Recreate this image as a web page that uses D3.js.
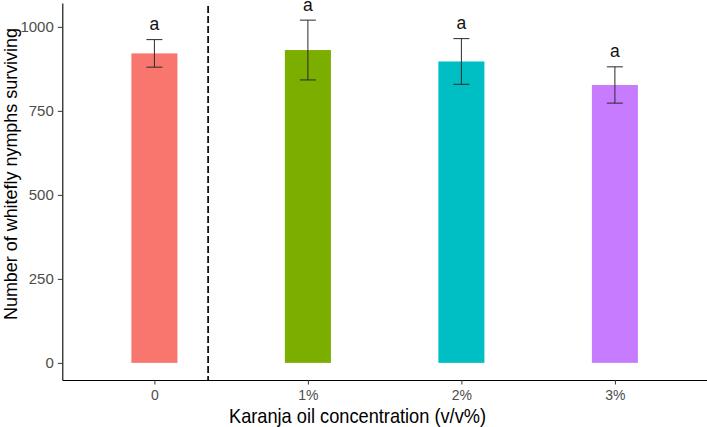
<!DOCTYPE html>
<html><head><meta charset="utf-8">
<script src="https://cdn.jsdelivr.net/npm/d3@7"></script>
<style>
html,body{margin:0;padding:0;background:#fff;}
svg{display:block;font-family:"Liberation Sans",Arial,Helvetica,sans-serif;}
</style></head>
<body>
<svg id="chart" width="707" height="427"></svg>
<script>
const categories = ["0", "1%", "2%", "3%"];
const means = [921, 931, 897, 827];
const errors = [41, 89, 68, 54];
const letters = ["a", "a", "a", "a"];
const colors = ["#F8766D", "#7CAE00", "#00BFC4", "#C77CFF"];
const yTicks = [0, 250, 500, 750, 1000];
const dividerPos = 1.35;

(function () {
const svg = d3.select("#chart");
const pLeft = 62.3, pRight = 707, pTop = 3, pBottom = 380;

const x = d3.scaleLinear().domain([0.4, categories.length + 0.6]).range([pLeft, pRight]);
const y = d3.scaleLinear().domain([-51, 1071]).range([pBottom, pTop]);
const barW = x(1.3) - x(1);

const g = svg.append("g");

// bars
g.selectAll("rect.bar").data(means).join("rect")
  .attr("class", "bar")
  .attr("x", (d, i) => x(i + 1) - barW / 2)
  .attr("width", barW)
  .attr("y", d => y(d))
  .attr("height", d => y(0) - y(d))
  .attr("fill", (d, i) => colors[i]);

// error bars
const capW = 16;
const eb = g.selectAll("g.eb").data(means).join("g").attr("class", "eb")
  .attr("stroke", "#2a2a2a").attr("stroke-width", 1).attr("fill", "none");
eb.append("line")
  .attr("x1", (d, i) => x(i + 1)).attr("x2", (d, i) => x(i + 1))
  .attr("y1", (d, i) => y(d + errors[i])).attr("y2", (d, i) => y(d - errors[i]));
eb.append("line")
  .attr("x1", (d, i) => x(i + 1) - capW / 2).attr("x2", (d, i) => x(i + 1) + capW / 2)
  .attr("y1", (d, i) => y(d + errors[i])).attr("y2", (d, i) => y(d + errors[i]));
eb.append("line")
  .attr("x1", (d, i) => x(i + 1) - capW / 2).attr("x2", (d, i) => x(i + 1) + capW / 2)
  .attr("y1", (d, i) => y(d - errors[i])).attr("y2", (d, i) => y(d - errors[i]));

// letters
g.selectAll("text.letter").data(means).join("text")
  .attr("class", "letter")
  .attr("x", (d, i) => x(i + 1))
  .attr("y", (d, i) => y(d + errors[i]) - 9.5)
  .attr("text-anchor", "middle")
  .style("font-size", "17.5px")
  .attr("fill", "#111")
  .text((d, i) => letters[i]);

// divider
g.append("line")
  .attr("x1", x(dividerPos)).attr("x2", x(dividerPos))
  .attr("y1", pTop + 3).attr("y2", pBottom)
  .attr("stroke", "#111").attr("stroke-width", 1.8)
  .attr("stroke-dasharray", "7,3");

// y axis
const yAxis = svg.append("g").attr("transform", `translate(${pLeft},0)`)
  .call(d3.axisLeft(y).tickValues(yTicks).tickFormat(d3.format("d"))
    .tickSize(4.5).tickPadding(4).tickSizeOuter(0));
yAxis.select(".domain").attr("stroke", "#000").attr("stroke-width", 1.1);
yAxis.selectAll(".tick line").attr("stroke", "#333").attr("stroke-width", 1);
yAxis.selectAll(".tick text").attr("fill", "#4D4D4D")
  .style("font-size", "15px").style("font-family", "'Liberation Sans', Arial, sans-serif");

// x axis
const xAxis = svg.append("g").attr("transform", `translate(0,${pBottom})`)
  .call(d3.axisBottom(x).tickValues(d3.range(1, categories.length + 1))
    .tickFormat(d => categories[d - 1]).tickSize(4.5).tickPadding(6).tickSizeOuter(0));
xAxis.select(".domain").attr("stroke", "#000").attr("stroke-width", 1.1);
xAxis.selectAll(".tick line").attr("stroke", "#333").attr("stroke-width", 1);
xAxis.selectAll(".tick text").attr("fill", "#4D4D4D")
  .style("font-size", "14px").style("font-family", "'Liberation Sans', Arial, sans-serif");

// axis titles
svg.append("text")
  .attr("x", 357.5).attr("y", 422.5)
  .attr("text-anchor", "middle").style("font-size", "21px").attr("fill", "#000")
  .attr("textLength", 257).attr("lengthAdjust", "spacingAndGlyphs")
  .text("Karanja oil concentration (v/v%)");

svg.append("text")
  .attr("transform", "translate(17.3,174) rotate(-90)")
  .attr("text-anchor", "middle").style("font-size", "19px").attr("fill", "#000")
  .attr("textLength", 292).attr("lengthAdjust", "spacingAndGlyphs")
  .text("Number of whitefly nymphs surviving");
})();
</script>
</body></html>
